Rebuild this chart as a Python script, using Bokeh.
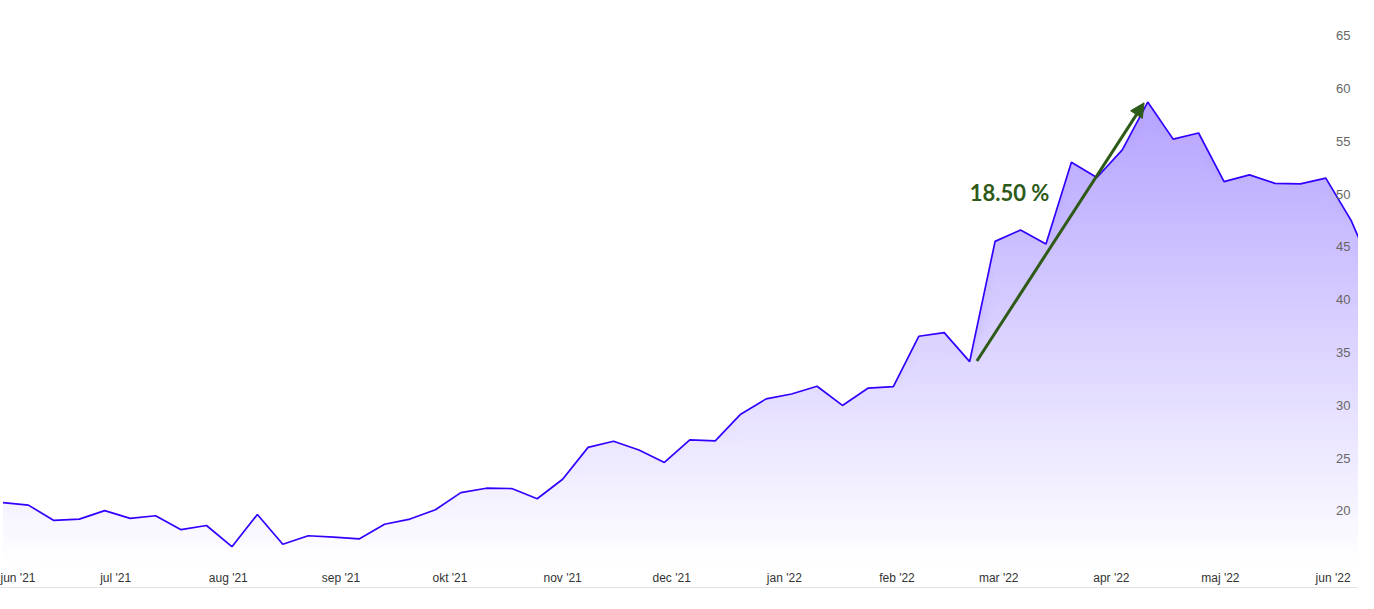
import numpy as np
import pandas as pd
from bokeh.plotting import figure
from bokeh.models import Range1d, FixedTicker, Arrow, NormalHead, LinearAxis
from bokeh.core.properties import value
from bokeh.embed import file_html
from bokeh.resources import INLINE

# ---------------- data ----------------
START_DATE = "2021-05-31"   # first weekly observation
VALUES = [20.78, 20.55, 19.10, 19.22, 20.03, 19.29, 19.54, 18.22, 18.62, 16.61,
          19.66, 16.84, 17.65, 17.51, 17.35, 18.74, 19.23, 20.11, 21.73, 22.15,
          22.12, 21.15, 23.00, 26.02, 26.60, 25.77, 24.59, 26.72, 26.64, 29.16,
          30.61, 31.07, 31.81, 29.99, 31.62, 31.78, 36.54, 36.88, 34.14, 45.53,
          46.60, 45.28, 53.03, 51.58, 54.20, 58.72, 55.21, 55.79, 51.18, 51.83,
          51.02, 50.97, 51.52, 47.49, 41.90]

MONTH_DATES = ["2021-06-01", "2021-07-01", "2021-08-01", "2021-09-01", "2021-10-01",
               "2021-11-01", "2021-12-01", "2022-01-01", "2022-02-01", "2022-03-01",
               "2022-04-01", "2022-05-01", "2022-06-01"]
MONTH_LABELS = ["jun '21", "jul '21", "aug '21", "sep '21", "okt '21", "nov '21",
                "dec '21", "jan '22", "feb '22", "mar '22", "apr '22", "maj '22", "jun '22"]

Y_TICKS = [20, 25, 30, 35, 40, 45, 50, 55, 60, 65]

ANNOT_TEXT = "18.50 %"
ARROW_START = ("2022-02-23", 34.2)
ARROW_END = ("2022-04-10", 58.65)
TEXT_POS = ("2022-02-21", 50.2)

# ---------------- view ----------------
X_START, X_END = -0.68, 373.0     # days since START_DATE
Y_MIN, Y_MAX = 15.02, 68.34

LINE_COLOR = "#3300ff"
GREEN = "#2e5a18"
BASE_RGB = (51, 0, 255)
A_TOP = 0.36

origin = pd.Timestamp(START_DATE)
dates = pd.date_range(START_DATE, periods=len(VALUES), freq="7D")
x = np.array([(d - origin).days for d in dates], dtype=float)
y = np.array(VALUES, dtype=float)


def day(s):
    return float((pd.Timestamp(s) - origin).days)


tick_pos = [day(d) for d in MONTH_DATES]

p = figure(frame_width=1358, frame_height=563,
           x_range=Range1d(X_START, X_END), y_range=Range1d(Y_MIN, Y_MAX),
           output_backend="svg", toolbar_location=None, tools="",
           y_axis_location=None, min_border=0, min_border_bottom=30,
           background_fill_color="white", border_fill_color="white")
p.outline_line_color = None
p.grid.visible = False

ax = p.xaxis[0]
ax.ticker = FixedTicker(ticks=tick_pos)
ax.major_label_overrides = {t: lab for t, lab in zip(tick_pos, MONTH_LABELS)}
ax.major_tick_line_color = None
ax.minor_tick_line_color = None
ax.major_tick_out = 0
ax.major_tick_in = 0
ax.axis_line_color = None
ax.major_label_standoff = 7
ax.major_label_text_font_size = "12px"
ax.major_label_text_font = "Liberation Sans"
ax.major_label_text_color = "#333333"

# thin light-grey rule under the month labels
rule = LinearAxis(ticker=FixedTicker(ticks=[]), major_tick_line_color=None,
                  minor_tick_line_color=None, major_label_text_font_size="0px",
                  axis_line_color="#e3e3e3", axis_line_width=1)
p.add_layout(rule, "below")

# gradient fill, simulated with stacked layers
peak = y.max()
n_layers = 90
levels = np.linspace(Y_MIN, peak, n_layers + 1)
for k in range(n_layers):
    lo = levels[k]
    mid = 0.5 * (levels[k] + levels[k + 1])
    a = A_TOP * (mid - Y_MIN) / (peak - Y_MIN)
    r, g, b = [int(round(255 - a * (255 - c))) for c in BASE_RGB]
    col = "#%02x%02x%02x" % (r, g, b)
    p.varea(x=x, y1=np.minimum(y, lo) if k > 0 else np.full_like(y, Y_MIN), y2=y,
            fill_color=col, fill_alpha=1.0)

p.line(x, y, line_color=LINE_COLOR, line_width=1.7)

# y tick labels drawn inside the plot on the right
p.text(x=[X_END] * len(Y_TICKS), y=Y_TICKS, text=[str(t) for t in Y_TICKS],
       x_offset=-8, text_align="right", text_baseline="middle", text_font_size="13px",
       text_color="#666666", text_font=value("Liberation Sans"))

# annotation
p.add_layout(Arrow(end=NormalHead(size=14, fill_color=GREEN, line_color=GREEN),
                   x_start=day(ARROW_START[0]), y_start=ARROW_START[1],
                   x_end=day(ARROW_END[0]), y_end=ARROW_END[1],
                   line_color=GREEN, line_width=3))
p.text(x=[day(TEXT_POS[0])], y=[TEXT_POS[1]], text=[ANNOT_TEXT],
       text_align="left", text_baseline="middle", text_font_size="22px",
       text_font_style="bold", text_color=GREEN, text_font=value("Lato"))

open("out.html", "w").write(file_html(p, INLINE))
